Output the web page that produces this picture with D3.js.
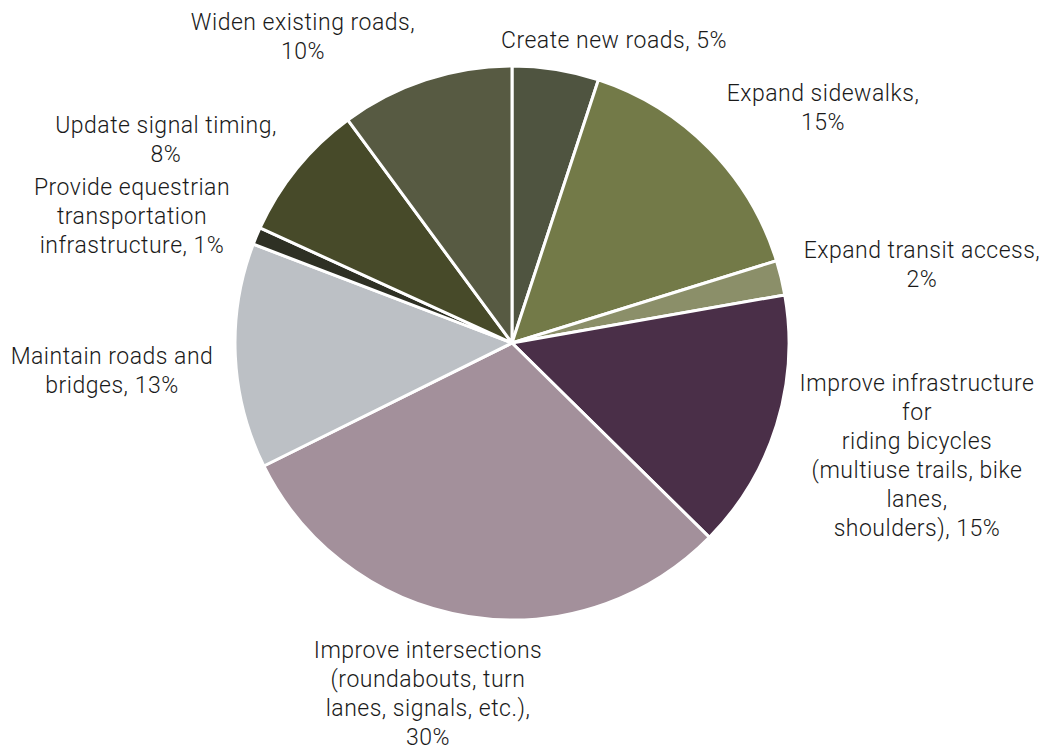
<!DOCTYPE html>
<html>
<head>
<meta charset="utf-8">
<script src="https://cdn.jsdelivr.net/npm/d3@7"></script>
<style>
  html, body { margin: 0; padding: 0; background: #ffffff; }
  svg text { font-family: "Roboto", "Open Sans", sans-serif; font-weight: 300; fill: #1a1a1a; letter-spacing: 0.5px; }
</style>
</head>
<body>
<svg id="chart" width="1042" height="750"></svg>
<script>
// Share of responses per transportation priority (percent), clockwise from 12 o'clock
const categories = [
  "Create new roads",
  "Expand sidewalks",
  "Expand transit access",
  "Improve infrastructure for riding bicycles (multiuse trails, bike lanes, shoulders)",
  "Improve intersections (roundabouts, turn lanes, signals, etc.)",
  "Maintain roads and bridges",
  "Provide equestrian transportation infrastructure",
  "Update signal timing",
  "Widen existing roads"
];
const values = [5, 15, 2, 15, 30, 13, 1, 8, 10];

// Label text broken into lines as displayed
const labelLines = [
  ["Create new roads, 5%"],
  ["Expand sidewalks,", "15%"],
  ["Expand transit access,", "2%"],
  ["Improve infrastructure", "for", "riding bicycles", "(multiuse trails, bike", "lanes,", "shoulders), 15%"],
  ["Improve intersections", "(roundabouts, turn", "lanes, signals, etc.),", "30%"],
  ["Maintain roads and", "bridges, 13%"],
  ["Provide equestrian", "transportation", "infrastructure, 1%"],
  ["Update signal timing,", "8%"],
  ["Widen existing roads,", "10%"]
];

const sliceColors = [
  "#4f5440", "#737a48", "#8b8f69", "#4a2f48", "#a3909b",
  "#bcc0c5", "#2e3024", "#474a29", "#575a42"
];

// Layout
const cx = 512, cy = 343, radius = 277;
const fontSize = 23, lineHeight = 29;
// Label block centres (x, first-line y)
const labelAnchors = [
  [614, 42], [823, 95], [922, 252], [917, 385], [428, 652],
  [112, 358], [132, 189], [166, 127], [303, 24]
];

const svg = d3.select("#chart");
const g = svg.append("g").attr("transform", `translate(${cx},${cy})`);

const pie = d3.pie().sort(null).value(d => d);
const arc = d3.arc().innerRadius(0).outerRadius(radius);
const arcs = pie(values);

g.selectAll("path.slice")
  .data(arcs)
  .join("path")
  .attr("class", "slice")
  .attr("d", arc)
  .attr("fill", (d, i) => sliceColors[i])
  .attr("stroke", "#ffffff")
  .attr("stroke-width", 3)
  .attr("stroke-linejoin", "round");

const labels = svg.append("g").attr("class", "labels");
labelLines.forEach((lines, i) => {
  const [lx, ly] = labelAnchors[i];
  const t = labels.append("text")
    .attr("text-anchor", "middle")
    .attr("font-size", fontSize)
    .attr("x", lx)
    .attr("y", ly)
    .attr("dominant-baseline", "middle");
  t.selectAll("tspan")
    .data(lines)
    .join("tspan")
    .attr("x", lx)
    .attr("dy", (d, j) => j === 0 ? 0 : lineHeight)
    .text(d => d);
});
</script>
</body>
</html>
